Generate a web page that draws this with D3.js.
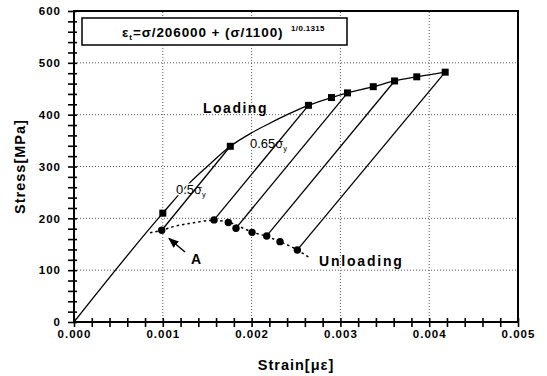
<!DOCTYPE html>
<html>
<head>
<meta charset="utf-8">
<script src="https://cdn.jsdelivr.net/npm/d3@7"></script>
<style>
  body { margin: 0; background: #fff; }
  svg { font-family: "Liberation Sans", Arial, sans-serif; }
</style>
</head>
<body>
<div id="chart"></div>
<script>
// loading curve (strain, stress)
var loadStrain = [0, 0.001, 0.0013, 0.0015, 0.00176, 0.002, 0.0022, 0.0024, 0.00264, 0.0029, 0.00308, 0.00337, 0.00361, 0.00386, 0.00418];
var loadStress = [0, 210, 268, 300, 339, 365, 383, 400, 418, 433, 442, 454, 465, 473, 482];
// square markers on the loading curve
var sqStrain = [0.001, 0.00176, 0.00264, 0.0029, 0.00308, 0.00337, 0.00361, 0.00386, 0.00418];
var sqStress = [210, 339, 418, 433, 442, 454, 465, 473, 482];
// circle markers (unloaded points)
var ciStrain = [0.000988, 0.001577, 0.001738, 0.001824, 0.002005, 0.00217, 0.00232, 0.002515];
var ciStress = [177, 197, 192, 181, 173, 166, 155, 139];
// dotted unloading curve
var unStrain = [0.000856, 0.000988, 0.00112, 0.0013, 0.00155, 0.00172, 0.00185, 0.002, 0.00217, 0.00232, 0.002515, 0.00266];
var unStress = [172, 177, 184, 190, 196, 194, 185, 174, 165, 155, 139, 123];
// unloading lines: square index -> circle index
var unloadFrom = [1, 2, 4, 6, 8];
var unloadTo = [0, 1, 3, 5, 7];

var xTicks = [0, 0.001, 0.002, 0.003, 0.004, 0.005];
var yTicks = [0, 100, 200, 300, 400, 500, 600];

var width = 547, height = 376;
var margin = { top: 11, right: 29, bottom: 54, left: 74 };

var svg = d3.select("#chart").append("svg")
  .attr("width", width)
  .attr("height", height);

var x = d3.scaleLinear().domain([0, 0.005]).range([margin.left, width - margin.right]);
var y = d3.scaleLinear().domain([0, 600]).range([height - margin.bottom, margin.top]);

// grid
svg.append("g").selectAll("line").data(xTicks.slice(1, -1)).enter().append("line")
  .attr("x1", d => x(d)).attr("x2", d => x(d))
  .attr("y1", y(0)).attr("y2", y(600))
  .attr("stroke", "#333").attr("stroke-width", 0.8).attr("stroke-dasharray", "1,2");
svg.append("g").selectAll("line").data(yTicks.slice(1, -1)).enter().append("line")
  .attr("x1", x(0)).attr("x2", x(0.005))
  .attr("y1", d => y(d)).attr("y2", d => y(d))
  .attr("stroke", "#333").attr("stroke-width", 0.8).attr("stroke-dasharray", "1,2");

// frame
svg.append("rect")
  .attr("x", x(0)).attr("y", y(600))
  .attr("width", x(0.005) - x(0)).attr("height", y(0) - y(600))
  .attr("fill", "none").attr("stroke", "#000").attr("stroke-width", 2);

// minor + major ticks crossing the axes (every 0.0002 and every 20 MPa)
var xMinor = d3.range(0, 0.00501, 0.0002);
var yMinor = d3.range(0, 601, 20);
svg.append("g")
  .attr("transform", "translate(0," + (y(0) + 5) + ")")
  .call(d3.axisTop(x).tickValues(xMinor).tickSize(9).tickFormat(""))
  .call(g => g.select(".domain").remove())
  .selectAll("line").attr("stroke", "#000").attr("stroke-width", 1.6);
svg.append("g")
  .attr("transform", "translate(" + (x(0) - 6) + ",0)")
  .call(d3.axisRight(y).tickValues(yMinor).tickSize(9).tickFormat(""))
  .call(g => g.select(".domain").remove())
  .selectAll("line").attr("stroke", "#000").attr("stroke-width", 1.6);

// axes labels
svg.append("g")
  .attr("transform", "translate(0," + y(0) + ")")
  .call(d3.axisBottom(x).tickValues(xTicks).tickFormat(d3.format(".3f")).tickSize(0).tickPadding(8))
  .call(g => g.select(".domain").remove())
  .selectAll("text")
  .attr("font-size", 11.5).attr("font-weight", "bold").attr("letter-spacing", 1).attr("fill", "#000")
  .attr("font-family", "Liberation Sans, Arial, sans-serif");
svg.append("g")
  .attr("transform", "translate(" + x(0) + ",0)")
  .call(d3.axisLeft(y).tickValues(yTicks).tickSize(0).tickPadding(13))
  .call(g => g.select(".domain").remove())
  .selectAll("text")
  .attr("font-size", 11.5).attr("font-weight", "bold").attr("letter-spacing", 1).attr("fill", "#000")
  .attr("font-family", "Liberation Sans, Arial, sans-serif");

// loading curve
var loadData = loadStrain.map((d, i) => [d, loadStress[i]]);
svg.append("path")
  .datum(loadData)
  .attr("fill", "none").attr("stroke", "#000").attr("stroke-width", 1.3)
  .attr("d", d3.line().x(d => x(d[0])).y(d => y(d[1])).curve(d3.curveMonotoneX));

// level labels sit over the loading curve
var l1 = svg.append("text").attr("x", 176).attr("y", 194).attr("font-size", 13)
  .attr("stroke", "#fff").attr("stroke-width", 3).attr("paint-order", "stroke");
l1.append("tspan").text("0.5σ");
l1.append("tspan").attr("font-size", 7.5).attr("dy", 3).text("y");
var l2 = svg.append("text").attr("x", 250).attr("y", 148).attr("font-size", 13)
  .attr("stroke", "#fff").attr("stroke-width", 3).attr("paint-order", "stroke");
l2.append("tspan").text("0.65σ");
l2.append("tspan").attr("font-size", 7.5).attr("dy", 3).text("y");

// unloading lines
unloadFrom.forEach(function (s, k) {
  var c = unloadTo[k];
  svg.append("line")
    .attr("x1", x(sqStrain[s])).attr("y1", y(sqStress[s]))
    .attr("x2", x(ciStrain[c])).attr("y2", y(ciStress[c]))
    .attr("stroke", "#000").attr("stroke-width", 1.3);
});

// dotted unloading curve
var unData = unStrain.map((d, i) => [d, unStress[i]]);
svg.append("path")
  .datum(unData)
  .attr("fill", "none").attr("stroke", "#000").attr("stroke-width", 1.5)
  .attr("stroke-dasharray", "2.5,3")
  .attr("d", d3.line().x(d => x(d[0])).y(d => y(d[1])).curve(d3.curveMonotoneX));

// markers
svg.append("g").selectAll("rect").data(sqStrain).enter().append("rect")
  .attr("x", (d, i) => x(d) - 3.5).attr("y", (d, i) => y(sqStress[i]) - 3.5)
  .attr("width", 7).attr("height", 7).attr("fill", "#000");
svg.append("g").selectAll("circle").data(ciStrain).enter().append("circle")
  .attr("cx", d => x(d)).attr("cy", (d, i) => y(ciStress[i]))
  .attr("r", 3.7).attr("fill", "#000");

// formula box
svg.append("rect")
  .attr("x", 82).attr("y", 18).attr("width", 265).attr("height", 27)
  .attr("fill", "#fff").attr("stroke", "#000").attr("stroke-width", 1.5);
var f = svg.append("text").attr("x", 122).attr("y", 37)
  .attr("font-size", 13.5).attr("font-weight", "bold").attr("letter-spacing", 0.9);
f.append("tspan").text("ε");
f.append("tspan").attr("font-size", 8).attr("dy", 3).text("t");
f.append("tspan").attr("dy", -3).text("=σ/206000 + (σ/1100) ");
f.append("tspan").attr("font-size", 8).attr("dy", -6).attr("dx", 3).attr("letter-spacing", 0.3).text("1/0.1315");

// annotations
svg.append("text").attr("x", 203).attr("y", 113)
  .attr("font-size", 14).attr("font-weight", "bold").attr("letter-spacing", 1.5).text("Loading");
svg.append("text").attr("x", 319).attr("y", 266)
  .attr("font-size", 14).attr("font-weight", "bold").attr("letter-spacing", 1.8).text("Unloading");
svg.append("text").attr("x", 191).attr("y", 264)
  .attr("font-size", 14).attr("font-weight", "bold").text("A");

// arrow to A
svg.append("defs").append("marker")
  .attr("id", "ah").attr("viewBox", "0 0 10 10").attr("refX", 9).attr("refY", 5)
  .attr("markerWidth", 7).attr("markerHeight", 7).attr("orient", "auto")
  .append("path").attr("d", "M0,1 L10,5 L0,9 Z").attr("fill", "#000");
svg.append("line")
  .attr("x1", 185).attr("y1", 252).attr("x2", 169).attr("y2", 238.5)
  .attr("stroke", "#000").attr("stroke-width", 1.5).attr("marker-end", "url(#ah)");

// axis titles
svg.append("text")
  .attr("x", (x(0) + x(0.005)) / 2).attr("y", 370)
  .attr("text-anchor", "middle").attr("font-size", 14.5).attr("font-weight", "bold").attr("letter-spacing", 1)
  .text("Strain[με]");
svg.append("text")
  .attr("transform", "translate(25," + ((y(0) + y(600)) / 2) + ") rotate(-90)")
  .attr("text-anchor", "middle").attr("font-size", 14.5).attr("font-weight", "bold").attr("letter-spacing", 1)
  .text("Stress[MPa]");
</script>
</body>
</html>
